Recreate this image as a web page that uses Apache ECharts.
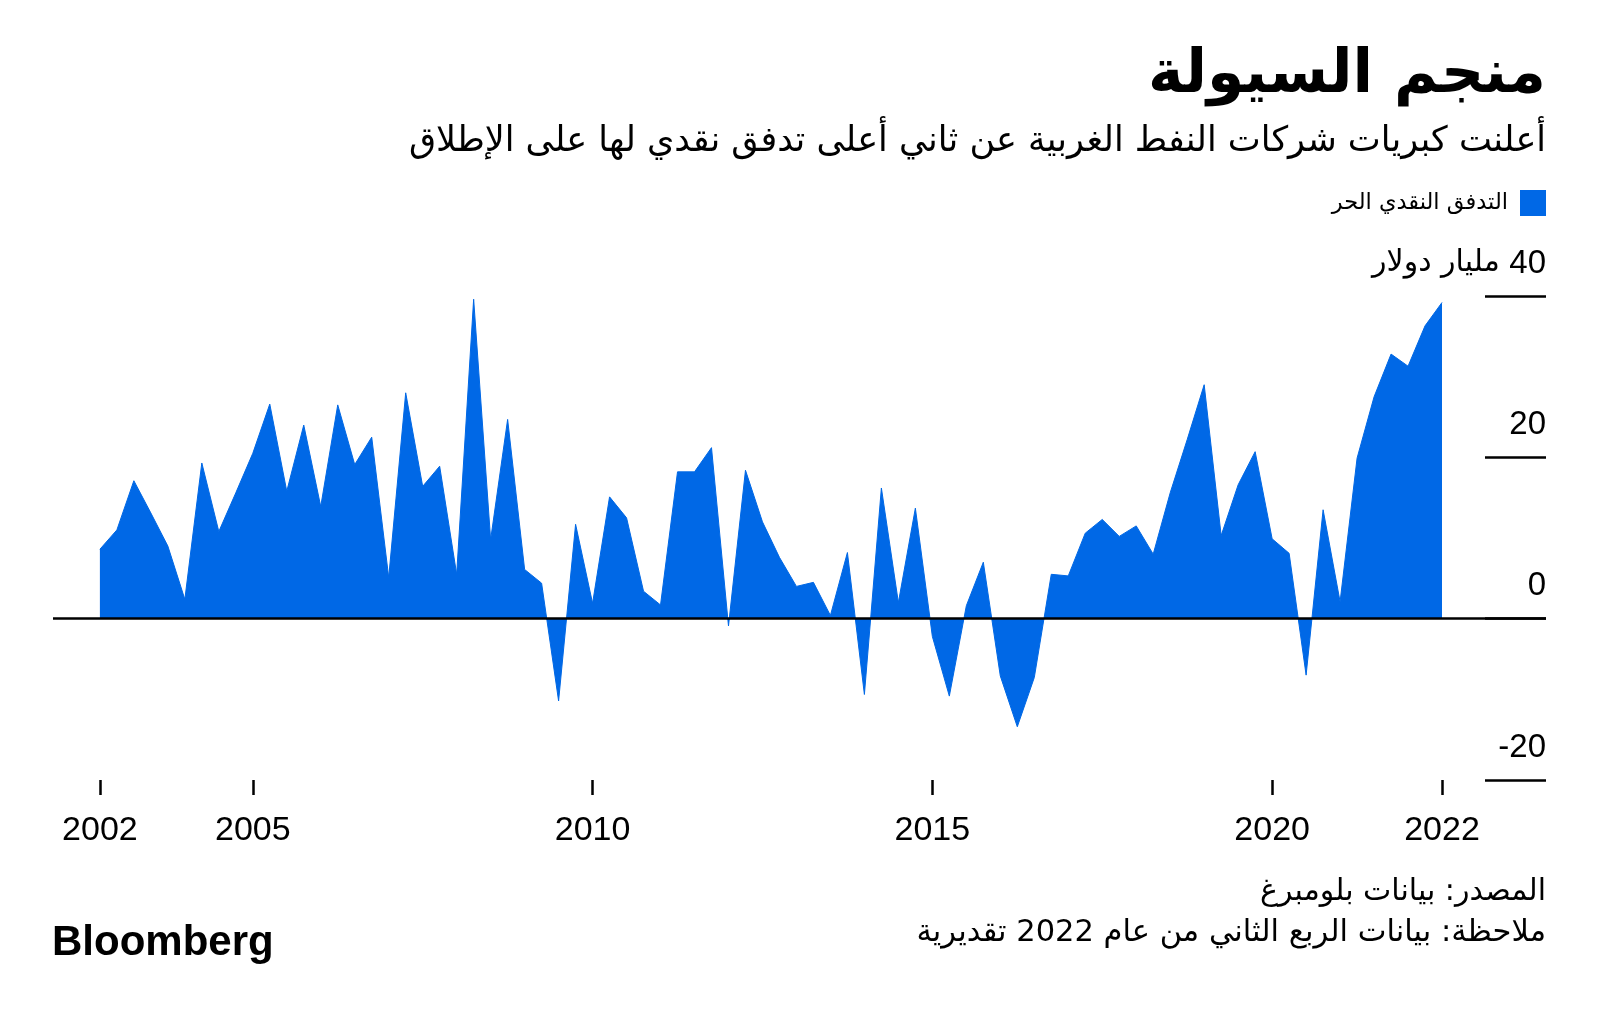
<!DOCTYPE html>
<html><head><meta charset="utf-8">
<script src="https://cdn.jsdelivr.net/npm/echarts@6/dist/echarts.min.js"></script>
<style>html,body{margin:0;padding:0;background:#fff}#chart{width:1600px;height:1020px}</style>
</head><body><div id="chart"></div>
<script>
// Quarter-end labels (Q3 2002 .. Q2 2022)
const quarters = [
  '2002 Q3','2002 Q4',
  '2003 Q1','2003 Q2','2003 Q3','2003 Q4',
  '2004 Q1','2004 Q2','2004 Q3','2004 Q4',
  '2005 Q1','2005 Q2','2005 Q3','2005 Q4',
  '2006 Q1','2006 Q2','2006 Q3','2006 Q4',
  '2007 Q1','2007 Q2','2007 Q3','2007 Q4',
  '2008 Q1','2008 Q2','2008 Q3','2008 Q4',
  '2009 Q1','2009 Q2','2009 Q3','2009 Q4',
  '2010 Q1','2010 Q2','2010 Q3','2010 Q4',
  '2011 Q1','2011 Q2','2011 Q3','2011 Q4',
  '2012 Q1','2012 Q2','2012 Q3','2012 Q4',
  '2013 Q1','2013 Q2','2013 Q3','2013 Q4',
  '2014 Q1','2014 Q2','2014 Q3','2014 Q4',
  '2015 Q1','2015 Q2','2015 Q3','2015 Q4',
  '2016 Q1','2016 Q2','2016 Q3','2016 Q4',
  '2017 Q1','2017 Q2','2017 Q3','2017 Q4',
  '2018 Q1','2018 Q2','2018 Q3','2018 Q4',
  '2019 Q1','2019 Q2','2019 Q3','2019 Q4',
  '2020 Q1','2020 Q2','2020 Q3','2020 Q4',
  '2021 Q1','2021 Q2','2021 Q3','2021 Q4',
  '2022 Q1','2022 Q2'
];
// Free cash flow, billion USD
const freeCashFlow = [
  8.6, 11.0,
  17.1, 13.1, 9.0, 2.4,
  19.3, 10.8, 15.6, 20.5,
  26.6, 15.8, 24.0, 13.9,
  26.5, 19.1, 22.5, 5.1,
  28.0, 16.4, 18.9, 5.5,
  39.6, 9.8, 24.7, 6.1,
  4.4, -10.2, 11.7, 1.9,
  15.1, 12.5, 3.4, 1.7,
  18.2, 18.2, 21.2, -0.9,
  18.4, 12.0, 7.6, 4.0,
  4.5, 0.4, 8.2, -9.4,
  16.2, 2.0, 13.7, -2.2,
  -9.6, 1.6, 7.0, -7.1,
  -13.4, -7.3, 5.5, 5.3,
  10.6, 12.3, 10.2, 11.5,
  8.0, 15.6, 22.2, 29.0,
  10.3, 16.6, 20.7, 9.9,
  8.1, -7.0, 13.5, 2.1,
  19.9, 27.5, 32.8, 31.3,
  36.3, 39.2
];
const xTickValues = [2002.75, 2005, 2010, 2015, 2020, 2022.5];
const xTickLabels = ['2002', '2005', '2010', '2015', '2020', '2022'];
const yTickValues = [-20, 0, 20, 40];
const yTickLabels = ['-20', '0', '20', '{ar|مليار دولار }40'];

const seriesName = 'التدفق النقدي الحر';
const titleText = 'منجم السيولة';
const subtitleText = 'أعلنت كبريات شركات النفط الغربية عن ثاني أعلى تدفق نقدي لها على الإطلاق';
const sourceText = 'المصدر: بيانات بلومبرغ';
const noteText = 'ملاحظة: بيانات الربع الثاني من عام 2022 تقديرية';

const BLUE = '#0068e6';
const NUM_FONT = "'Liberation Sans', 'DejaVu Sans', sans-serif";
const AR_FONT = "'DejaVu Sans', sans-serif";

function quarterToYear(q) {
  const [y, qq] = q.split(' Q');
  return Number(y) + Number(qq) / 4;
}
const seriesData = quarters.map((q, i) => [quarterToYear(q), freeCashFlow[i]]);

const chart = echarts.init(document.getElementById('chart'), null, { renderer: 'canvas' });
chart.setOption({
  animation: false,
  backgroundColor: '#fff',
  title: [
    { text: titleText, right: 54, top: 46, padding: 0,
      textStyle: { fontFamily: AR_FONT, fontSize: 60, fontWeight: 'bold', color: '#000' } },
    { text: subtitleText, right: 54, top: 124, padding: 0,
      textStyle: { fontFamily: AR_FONT, fontSize: 35, fontWeight: 'normal', color: '#000' } }
  ],
  legend: {
    data: [{ name: seriesName, icon: 'rect', itemStyle: { color: BLUE } }],
    right: 54, top: 190, align: 'right', padding: 0, itemWidth: 26, itemHeight: 26, itemGap: 12,
    textStyle: { fontFamily: AR_FONT, fontSize: 22.5, color: '#000', padding: [3, 7, 0, 0] }
  },
  grid: { left: 53, right: 54, top: 296, bottom: 240, containLabel: false },
  xAxis: {
    type: 'value', min: 2002.06, max: 2024.03,
    axisLine: { show: false, onZero: false }, splitLine: { show: false },
    axisTick: { show: true, customValues: xTickValues, length: 15, lineStyle: { color: '#000', width: 2.5 } },
    axisLabel: {
      customValues: xTickValues, margin: 34, fontSize: 34, color: '#000', fontFamily: NUM_FONT,
      formatter: v => xTickLabels[xTickValues.findIndex(t => Math.abs(t - v) < 1e-6)] || ''
    }
  },
  yAxis: {
    type: 'value', position: 'right', min: -20, max: 40, interval: 20,
    axisLine: { show: false }, splitLine: { show: false },
    axisTick: { show: true, inside: true, length: 61, lineStyle: { color: '#000', width: 2.5 } },
    axisLabel: {
      inside: true, margin: 0, fontSize: 33, color: '#000', fontFamily: NUM_FONT,
      verticalAlign: 'bottom', padding: [0, 0, 16, 0],
      formatter: v => yTickLabels[yTickValues.indexOf(v)],
      rich: { ar: { fontFamily: AR_FONT, fontSize: 30, color: '#000' } }
    }
  },
  series: [{
    type: 'line', name: seriesName, data: seriesData,
    symbol: 'none', showSymbol: false, color: BLUE,
    lineStyle: { color: BLUE, width: 1 },
    areaStyle: { color: BLUE, opacity: 1 },
    markLine: {
      silent: true, symbol: 'none', animation: false,
      label: { show: false },
      lineStyle: { color: '#000', width: 2.5, type: 'solid' },
      data: [{ yAxis: 0 }]
    }
  }],
  graphic: [
    { type: 'text', x: 1546, y: 892,
      style: { text: sourceText, fontFamily: AR_FONT, fontSize: 30, fill: '#000', textAlign: 'right', textVerticalAlign: 'middle' } },
    { type: 'text', x: 1546, y: 933,
      style: { text: noteText, fontFamily: AR_FONT, fontSize: 30.5, fill: '#000', textAlign: 'right', textVerticalAlign: 'middle' } },
    { type: 'text', left: 52, top: 922,
      style: { text: 'Bloomberg', fontFamily: "'Liberation Sans', Arial, sans-serif", fontSize: 42, fontWeight: 'bold', fill: '#000' } }
  ]
});
</script>
</body></html>
